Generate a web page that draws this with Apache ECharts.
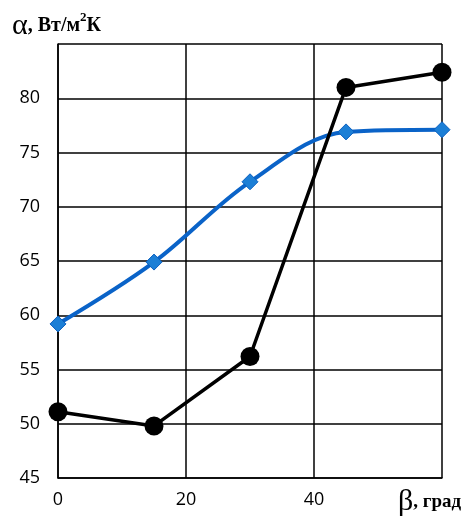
<!DOCTYPE html>
<html><head><meta charset="utf-8">
<script src="https://cdn.jsdelivr.net/npm/echarts@6/dist/echarts.min.js"></script>
<style>html,body{margin:0;padding:0;background:#fff}#c{width:472px;height:517px}</style>
</head><body><div id="c"></div>
<script>
const beta = [0, 15, 30, 45, 60];
const seriesBlack = [51.1, 49.8, 56.2, 81.0, 82.4];
const seriesBlue = [59.2, 64.9, 72.3, 76.9, 77.1];
const xTicks = [0, 20, 40];
const yTicks = [45, 50, 55, 60, 65, 70, 75, 80];

const chart = echarts.init(document.getElementById('c'));
chart.setOption({
  animation: false,
  grid: {left: 58, right: 30, top: 44, bottom: 39},
  xAxis: {
    type: 'value', min: 0, max: 60, interval: 20,
    axisLine: {show: true, lineStyle: {color: '#000', width: 1.5}},
    axisTick: {show: false},
    splitLine: {show: true, lineStyle: {color: '#000', width: 1.5}},
    axisLabel: {
      fontFamily: 'Open Sans', fontSize: 18, color: '#000', margin: 13,
      formatter: v => xTicks.includes(v) ? String(v) : ''
    }
  },
  yAxis: {
    type: 'value', min: 45, max: 85, interval: 5,
    axisLine: {show: true, lineStyle: {color: '#000', width: 1.5}},
    axisTick: {show: false},
    splitLine: {show: true, lineStyle: {color: '#000', width: 1.5}},
    axisLabel: {
      fontFamily: 'Open Sans', fontSize: 18, color: '#000', margin: 18,
      formatter: v => yTicks.includes(v) ? String(v) : ''
    }
  },
  graphic: [
    {type: 'text', left: 12, top: 11, style: {
      rich: {
        a: {fontFamily: 'Liberation Serif', fontSize: 30, fill: '#000'},
        b: {fontFamily: 'Liberation Serif', fontSize: 20, fontWeight: 'bold', fill: '#000'},
        s: {fontFamily: 'Liberation Serif', fontSize: 13, fontWeight: 'bold', fill: '#000', verticalAlign: 'top', padding: [0,0,12,0]}
      },
      text: '{a|α}{b|, Вт/м}{s|2}{b|К}'
    }},
    {type: 'text', left: 398, top: 487, style: {
      rich: {
        a: {fontFamily: 'Liberation Serif', fontSize: 30, fill: '#000'},
        b: {fontFamily: 'Liberation Serif', fontSize: 19, fontWeight: 'bold', fill: '#000'}
      },
      text: '{a|β}{b|, град}'
    }}
  ],
  series: [
    {
      type: 'line', data: beta.map((x, i) => [x, seriesBlue[i]]),
      smooth: 0.35, symbol: 'diamond', symbolSize: 16,
      lineStyle: {color: '#0a63c8', width: 4},
      itemStyle: {color: '#1c7fd6', borderColor: '#0a5fc0', borderWidth: 1}
    },
    {
      type: 'line', data: beta.map((x, i) => [x, seriesBlack[i]]),
      symbol: 'circle', symbolSize: 19,
      lineStyle: {color: '#000', width: 3.5},
      itemStyle: {color: '#000'}
    }
  ]
});
</script></body></html>
